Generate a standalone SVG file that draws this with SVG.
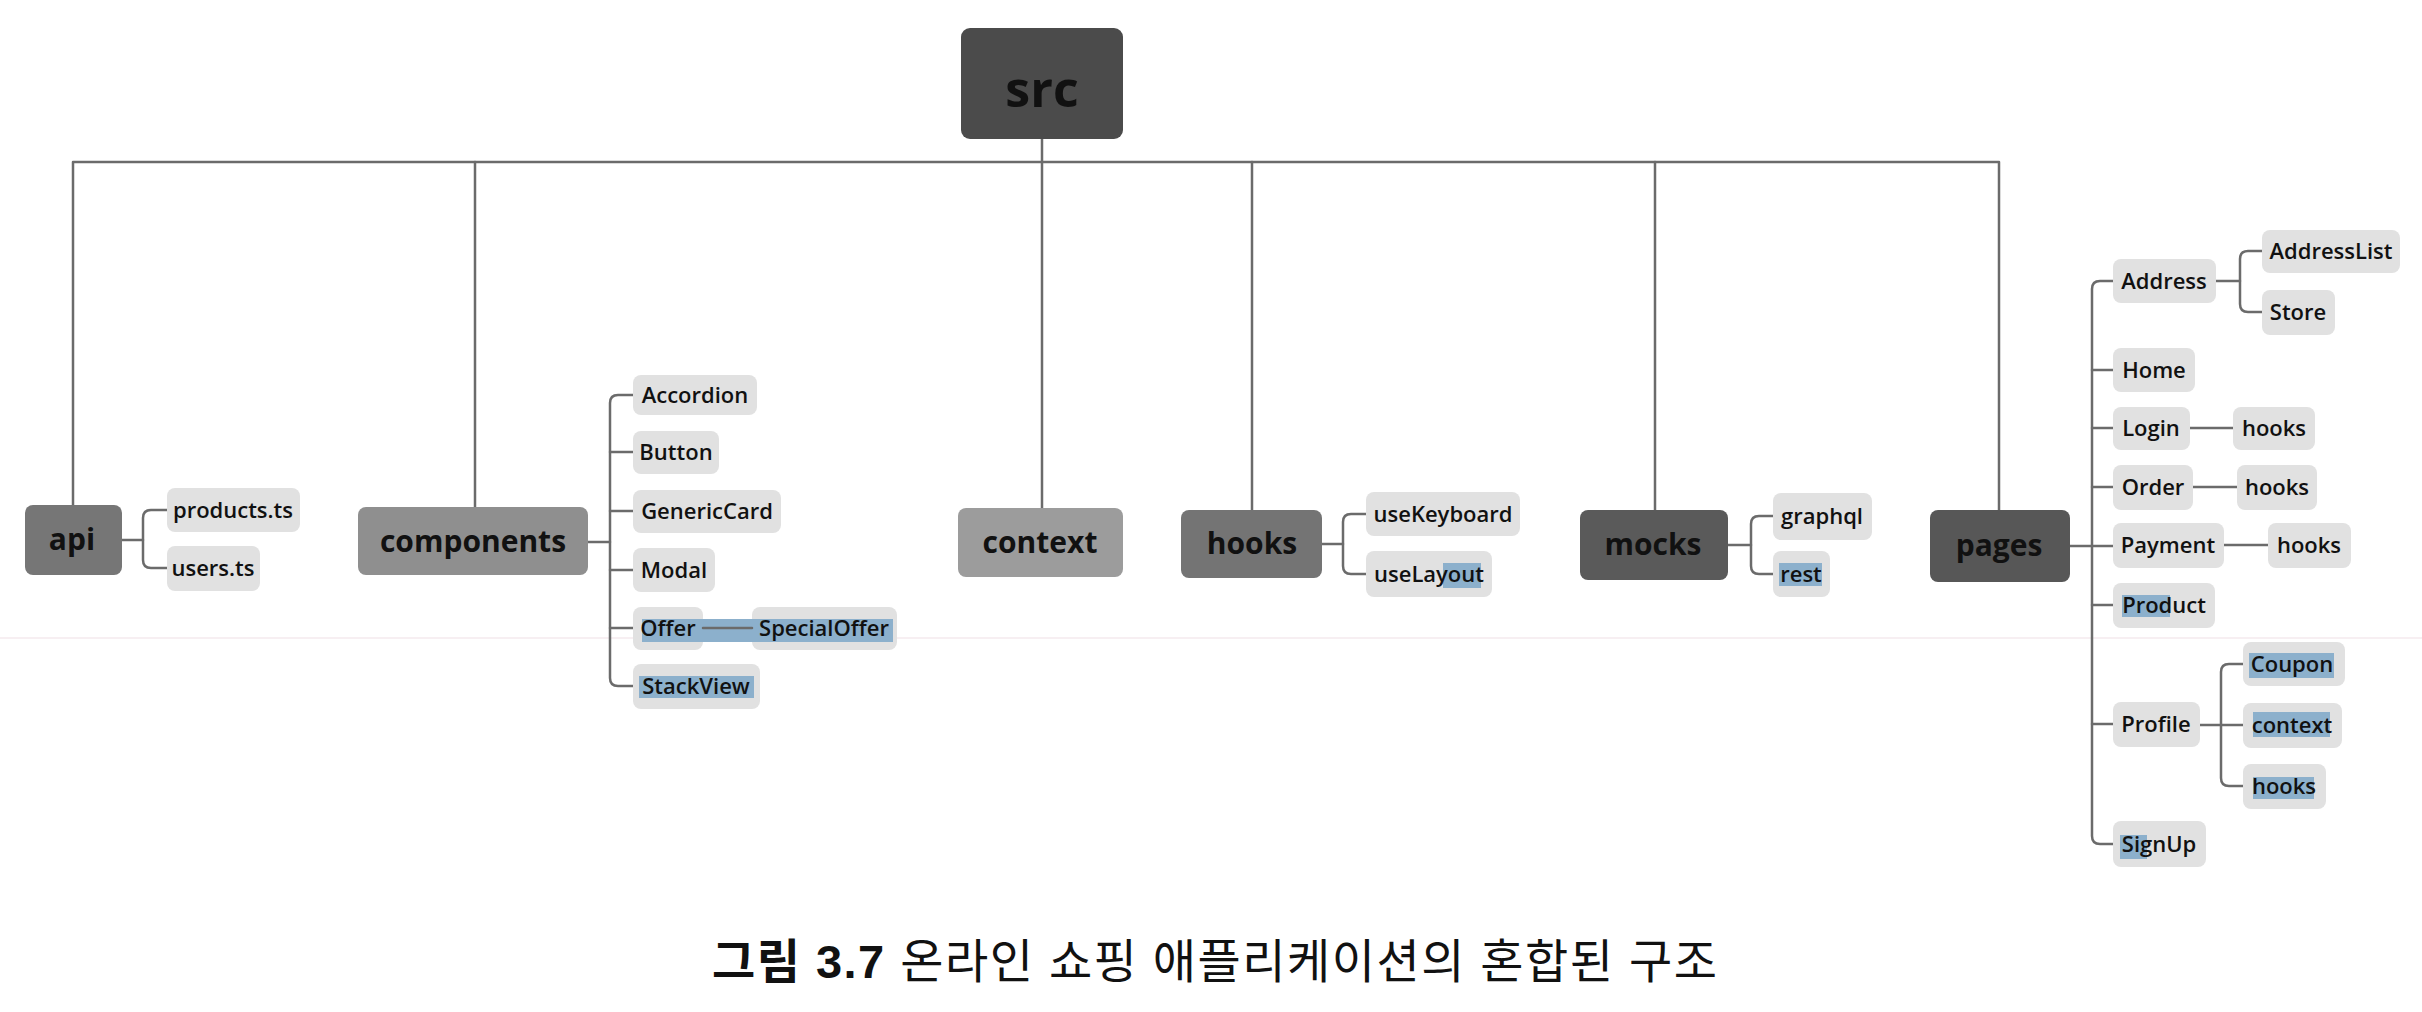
<svg xmlns="http://www.w3.org/2000/svg" width="2422" height="1012" viewBox="0 0 2422 1012">
<style>
.bg{fill:#ffffff}
.ln{fill:none;stroke:#6b6b6b;stroke-width:2.5;stroke-linecap:round;stroke-linejoin:round}
.leaf{fill:#e1e1e1}
.hl{fill:#8cb0cc}
.lt{font-family:"Open Sans","Liberation Sans",sans-serif;font-size:22px;font-weight:600;fill:#111;text-anchor:middle;dominant-baseline:central}
.pt{font-family:"Open Sans","Liberation Sans",sans-serif;font-size:30px;font-weight:700;fill:#111;text-anchor:middle;dominant-baseline:central}
.cap{font-family:"Liberation Sans","Noto Sans CJK KR",sans-serif;font-size:47px;fill:#111}
</style>
<rect class="bg" x="0" y="0" width="2422" height="1012"/>
<line x1="0" y1="638" x2="2422" y2="638" stroke="#f4eaee" stroke-width="1.5"/>

<g id="connectors">
  <path class="ln" d="M1042 139 V508"/>
  <path class="ln" d="M73 505 V162 H1999 V510"/>
  <path class="ln" d="M475 162 V507"/>
  <path class="ln" d="M1252 162 V510"/>
  <path class="ln" d="M1655 162 V510"/>
  <path class="ln" d="M122 540 H143"/>
  <path class="ln" d="M167 510 H151 Q143 510 143 518 V560 Q143 568 151 568 H167"/>
  <path class="ln" d="M588 542 H610"/>
  <path class="ln" d="M633 395 H618 Q610 395 610 403 V678 Q610 686 618 686 H633"/>
  <path class="ln" d="M610 452 H633 M610 511 H633 M610 570 H633 M610 628 H633"/>
  <path class="ln" d="M1322 544 H1343"/>
  <path class="ln" d="M1366 514 H1351 Q1343 514 1343 522 V566 Q1343 574 1351 574 H1366"/>
  <path class="ln" d="M1728 545 H1751"/>
  <path class="ln" d="M1773 516 H1759 Q1751 516 1751 524 V566 Q1751 574 1759 574 H1773"/>
  <path class="ln" d="M2070 546 H2113"/>
  <path class="ln" d="M2113 281 H2100 Q2092 281 2092 289 V836 Q2092 844 2100 844 H2113"/>
  <path class="ln" d="M2092 370 H2113 M2092 428 H2113 M2092 487 H2113 M2092 605 H2113 M2092 724 H2113"/>
  <path class="ln" d="M2216 281 H2240"/>
  <path class="ln" d="M2262 251 H2248 Q2240 251 2240 259 V304 Q2240 312 2248 312 H2262"/>
  <path class="ln" d="M2190 428 H2233 M2193 487 H2237 M2224 545 H2268"/>
  <path class="ln" d="M2200 725 H2243"/>
  <path class="ln" d="M2243 664 H2229 Q2221 664 2221 672 V778 Q2221 786 2229 786 H2243"/>
</g>

<g id="src"><rect x="961" y="28" width="162" height="111" rx="9" fill="#4b4b4b"/><text class="pt" x="1042" y="88" style="font-size:50px">src</text></g>

<g id="api"><rect x="25" y="505" width="97" height="70" rx="8" fill="#767676"/><text class="pt" x="72" y="538">api</text></g>
<g id="products-ts"><rect class="leaf" x="167" y="488" width="133" height="44" rx="8"/><text class="lt" x="233" y="509">products.ts</text></g>
<g id="users-ts"><rect class="leaf" x="167" y="546" width="93" height="45" rx="8"/><text class="lt" x="213" y="567">users.ts</text></g>

<g id="components"><rect x="358" y="507" width="230" height="68" rx="8" fill="#8f8f8f"/><text class="pt" x="473" y="540">components</text></g>
<g id="accordion"><rect class="leaf" x="633" y="375" width="124" height="40" rx="8"/><text class="lt" x="695" y="394">Accordion</text></g>
<g id="button"><rect class="leaf" x="633" y="431" width="86" height="43" rx="8"/><text class="lt" x="676" y="451">Button</text></g>
<g id="genericcard"><rect class="leaf" x="633" y="490" width="148" height="43" rx="8"/><text class="lt" x="707" y="510">GenericCard</text></g>
<g id="modal"><rect class="leaf" x="633" y="548" width="82" height="44" rx="8"/><text class="lt" x="674" y="569">Modal</text></g>
<g id="offer"><rect class="leaf" x="633" y="607" width="70" height="43" rx="8"/><rect class="hl" x="642" y="619" width="61" height="23"/><text class="lt" x="668" y="627">Offer</text></g>
<g id="specialoffer"><rect class="leaf" x="752" y="607" width="145" height="43" rx="8"/><rect class="hl" x="752" y="619" width="141" height="23"/><text class="lt" x="824" y="627">SpecialOffer</text></g>
<rect class="hl" x="703" y="619" width="49" height="23"/>
<path class="ln" d="M703 628 H752"/>
<g id="stackview"><rect class="leaf" x="633" y="664" width="127" height="45" rx="8"/><rect class="hl" x="639" y="676" width="115" height="22"/><text class="lt" x="696" y="685">StackView</text></g>

<g id="context"><rect x="958" y="508" width="165" height="69" rx="8" fill="#9c9c9c"/><text class="pt" x="1040" y="541">context</text></g>

<g id="hooks"><rect x="1181" y="510" width="141" height="68" rx="8" fill="#747474"/><text class="pt" x="1252" y="542">hooks</text></g>
<g id="usekeyboard"><rect class="leaf" x="1366" y="492" width="154" height="44" rx="8"/><text class="lt" x="1443" y="513">useKeyboard</text></g>
<g id="uselayout"><rect class="leaf" x="1366" y="551" width="126" height="46" rx="8"/><rect class="hl" x="1443" y="563" width="38" height="25"/><text class="lt" x="1429" y="573">useLayout</text></g>

<g id="mocks"><rect x="1580" y="510" width="148" height="70" rx="8" fill="#5a5a5a"/><text class="pt" x="1653" y="543">mocks</text></g>
<g id="graphql"><rect class="leaf" x="1773" y="493" width="99" height="47" rx="8"/><text class="lt" x="1822" y="515">graphql</text></g>
<g id="rest"><rect class="leaf" x="1773" y="551" width="57" height="46" rx="8"/><rect class="hl" x="1779" y="563" width="43" height="23"/><text class="lt" x="1801" y="573">rest</text></g>

<g id="pages"><rect x="1930" y="510" width="140" height="72" rx="8" fill="#575757"/><text class="pt" x="1999" y="544">pages</text></g>
<g id="address"><rect class="leaf" x="2113" y="259" width="103" height="44" rx="8"/><text class="lt" x="2164" y="280">Address</text></g>
<g id="addresslist"><rect class="leaf" x="2262" y="230" width="138" height="43" rx="8"/><text class="lt" x="2331" y="250">AddressList</text></g>
<g id="store"><rect class="leaf" x="2262" y="290" width="73" height="45" rx="8"/><text class="lt" x="2298" y="311">Store</text></g>
<g id="home"><rect class="leaf" x="2113" y="348" width="82" height="44" rx="8"/><text class="lt" x="2154" y="369">Home</text></g>
<g id="login"><rect class="leaf" x="2113" y="407" width="77" height="43" rx="8"/><text class="lt" x="2151" y="427">Login</text></g>
<g id="login-hooks"><rect class="leaf" x="2233" y="407" width="82" height="43" rx="8"/><text class="lt" x="2274" y="427">hooks</text></g>
<g id="order"><rect class="leaf" x="2113" y="465" width="80" height="45" rx="8"/><text class="lt" x="2153" y="486">Order</text></g>
<g id="order-hooks"><rect class="leaf" x="2237" y="465" width="80" height="45" rx="8"/><text class="lt" x="2277" y="486">hooks</text></g>
<g id="payment"><rect class="leaf" x="2113" y="523" width="111" height="45" rx="8"/><text class="lt" x="2168" y="544">Payment</text></g>
<g id="payment-hooks"><rect class="leaf" x="2268" y="523" width="83" height="45" rx="8"/><text class="lt" x="2309" y="544">hooks</text></g>
<g id="product"><rect class="leaf" x="2113" y="583" width="102" height="45" rx="8"/><rect class="hl" x="2122" y="595" width="48" height="22"/><text class="lt" x="2164" y="604">Product</text></g>
<g id="profile"><rect class="leaf" x="2113" y="702" width="87" height="45" rx="8"/><text class="lt" x="2156" y="723">Profile</text></g>
<g id="coupon"><rect class="leaf" x="2243" y="642" width="102" height="44" rx="8"/><rect class="hl" x="2249" y="653" width="85" height="25"/><text class="lt" x="2292" y="663">Coupon</text></g>
<g id="profile-context"><rect class="leaf" x="2243" y="703" width="99" height="45" rx="8"/><rect class="hl" x="2253" y="712" width="77" height="25"/><text class="lt" x="2292" y="724">context</text></g>
<g id="profile-hooks"><rect class="leaf" x="2243" y="764" width="83" height="45" rx="8"/><rect class="hl" x="2253" y="777" width="61" height="22"/><text class="lt" x="2284" y="785">hooks</text></g>
<g id="signup"><rect class="leaf" x="2113" y="821" width="93" height="46" rx="8"/><rect class="hl" x="2120" y="835" width="27" height="24"/><text class="lt" x="2159" y="843">SignUp</text></g>

<text class="cap" x="712" y="978" textLength="1005" lengthAdjust="spacing"><tspan font-weight="700">그림 3.7</tspan> 온라인 쇼핑 애플리케이션의 혼합된 구조</text>
</svg>
